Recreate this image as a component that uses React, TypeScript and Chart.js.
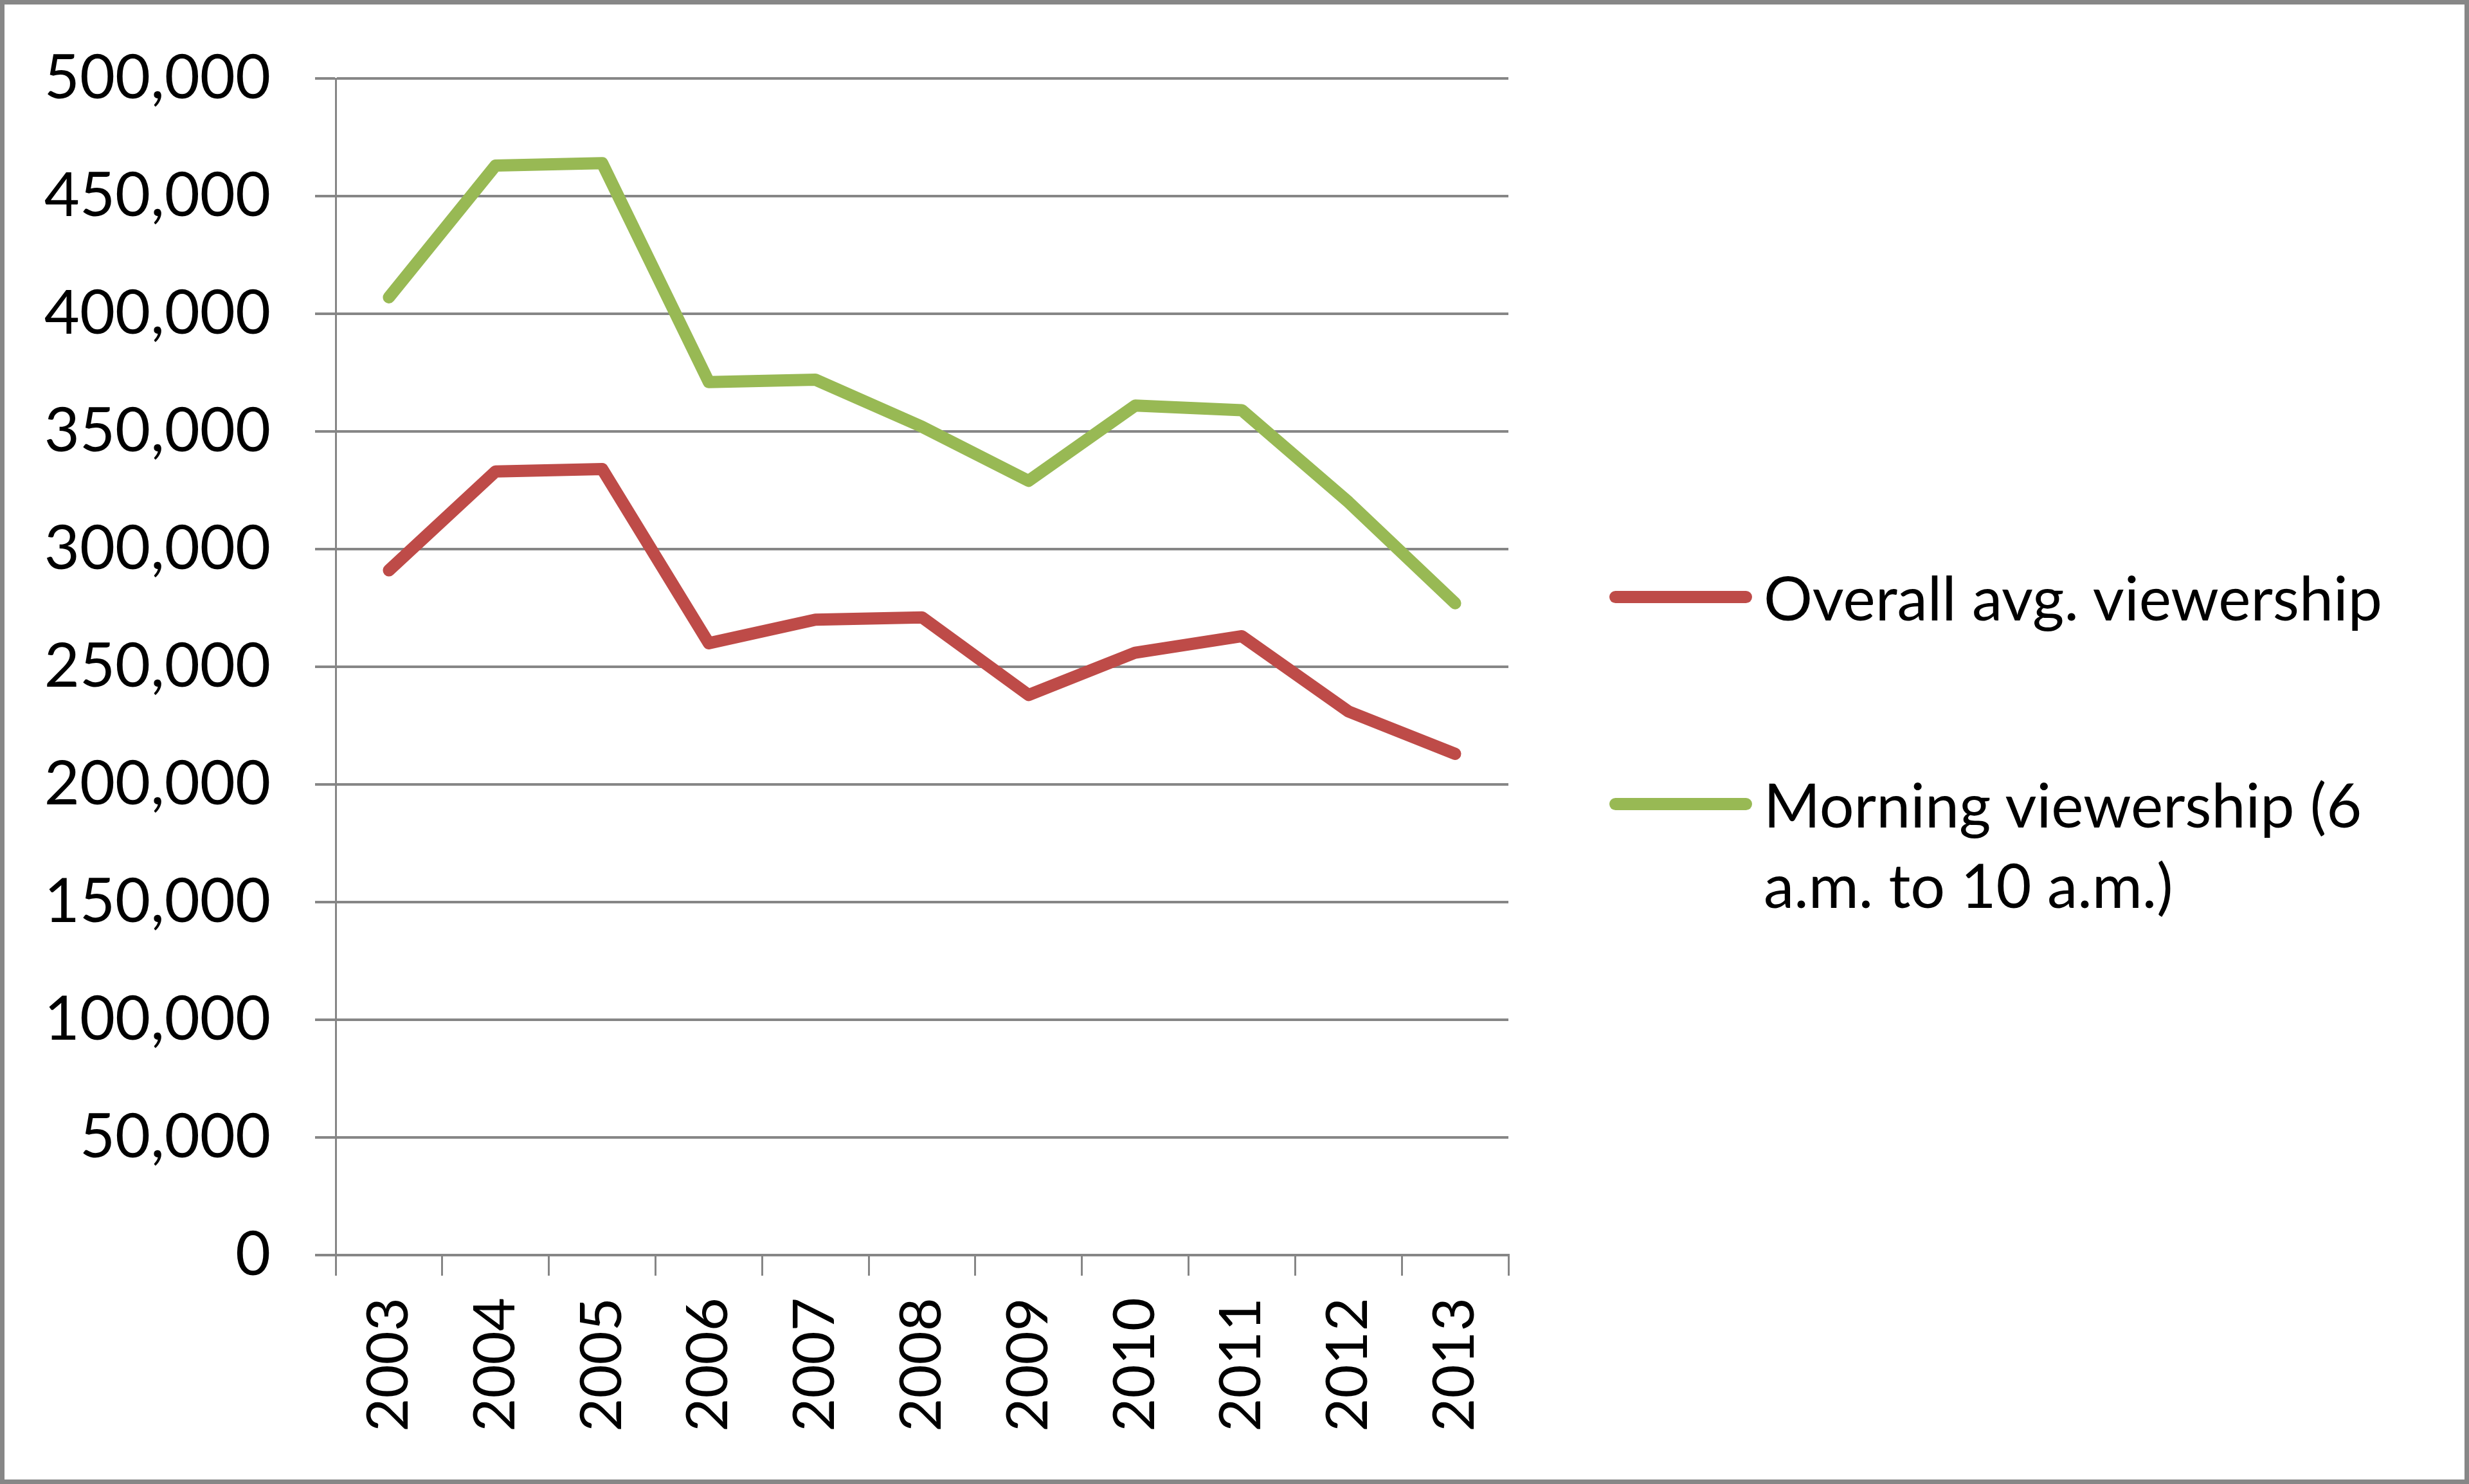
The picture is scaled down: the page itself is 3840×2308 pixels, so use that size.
import { useRef, useEffect } from 'react';
import { Chart, registerables } from 'chart.js';

Chart.register(...registerables);

const YEARS = ['2003', '2004', '2005', '2006', '2007', '2008', '2009', '2010', '2011', '2012', '2013'];
const OVERALL = [291000, 333000, 334000, 260000, 270000, 271000, 238000, 256000, 263000, 231000, 213000];
const MORNING = [407000, 463000, 464000, 371000, 372000, 352000, 329000, 361000, 359000, 320000, 277000];

const RED = '#BE4B48';
const GREEN = '#98B954';
const GRID = '#868686';
const FONT = 'Lato, "Open Sans", sans-serif';

const LEGEND = [
  { color: RED, lines: ['Overall avg. viewership'], y: 928 },
  { color: GREEN, lines: ['Morning viewership (6', 'a.m. to 10 a.m.)'], y: 1250 },
];

export default function App() {
  const canvasRef = useRef<HTMLCanvasElement>(null);
  const chartRef = useRef<Chart | null>(null);

  useEffect(() => {
    if (!canvasRef.current) return;
    if (chartRef.current) chartRef.current.destroy();

    const line = (label: string, data: number[], color: string) => ({
      label,
      data,
      borderColor: color,
      backgroundColor: color,
      borderWidth: 19,
      borderCapStyle: 'round' as const,
      borderJoinStyle: 'round' as const,
      pointRadius: 0,
      tension: 0,
    });

    chartRef.current = new Chart(canvasRef.current, {
      type: 'line',
      data: {
        labels: YEARS,
        datasets: [
          line('Overall avg. viewership', OVERALL, RED),
          line('Morning viewership (6 a.m. to 10 a.m.)', MORNING, GREEN),
        ],
      },
      options: {
        animation: false,
        responsive: true,
        maintainAspectRatio: false,
        layout: { padding: { left: 20, top: 115, right: 1487, bottom: 20 } },
        plugins: {
          legend: { display: false },
          tooltip: { enabled: false },
        },
        scales: {
          x: {
            offset: true,
            grid: {
              offset: true,
              drawOnChartArea: false,
              drawTicks: true,
              tickLength: 32,
              color: GRID,
              lineWidth: 3,
            },
            border: { display: true, color: GRID, width: 4 },
            ticks: {
              color: '#000',
              font: { family: FONT, size: 90 },
              maxRotation: 90,
              minRotation: 90,
              padding: 34,
              autoSkip: false,
            },
            afterFit: (scale: any) => {
              scale.height = 329;
              scale.paddingLeft = 0;
              scale.paddingRight = 0;
            },
          },
          y: {
            min: 0,
            max: 500000,
            grid: { color: GRID, lineWidth: 4, tickLength: 32 },
            border: { display: true, color: GRID, width: 3 },
            ticks: {
              stepSize: 50000,
              color: '#000',
              padding: 69,
              font: { family: FONT, size: 95 },
              callback: (v: any) => Number(v).toLocaleString('en-US'),
            },
            afterFit: (scale: any) => {
              scale.width = 495;
              scale.paddingTop = 0;
              scale.paddingBottom = 0;
            },
          },
        },
      },
    });

    return () => {
      if (chartRef.current) { chartRef.current.destroy(); chartRef.current = null; }
    };
  }, []);

  return (
    <div
      style={{
        position: 'fixed', left: 0, top: 0, width: 3840, height: 2308,
        boxSizing: 'border-box', border: '7px solid #878787', background: '#fff',
      }}
    >
      <div style={{ position: 'absolute', left: 0, top: 0, right: 0, bottom: 0 }}>
        <canvas ref={canvasRef} />
      </div>
      {LEGEND.map((item, i) => (
        <div key={i}>
          <div
            style={{
              position: 'absolute', left: 2503 - 7, top: item.y - 7 - 9.5,
              width: 222, height: 19, borderRadius: 10, background: item.color,
            }}
          />
          <div
            style={{
              position: 'absolute', left: 2743 - 7, top: item.y - 7 - 62.5,
              fontFamily: FONT, fontSize: 95, lineHeight: '125px', color: '#000',
              whiteSpace: 'nowrap',
            }}
          >
            {item.lines.map((l, j) => <div key={j}>{l}</div>)}
          </div>
        </div>
      ))}
    </div>
  );
}
